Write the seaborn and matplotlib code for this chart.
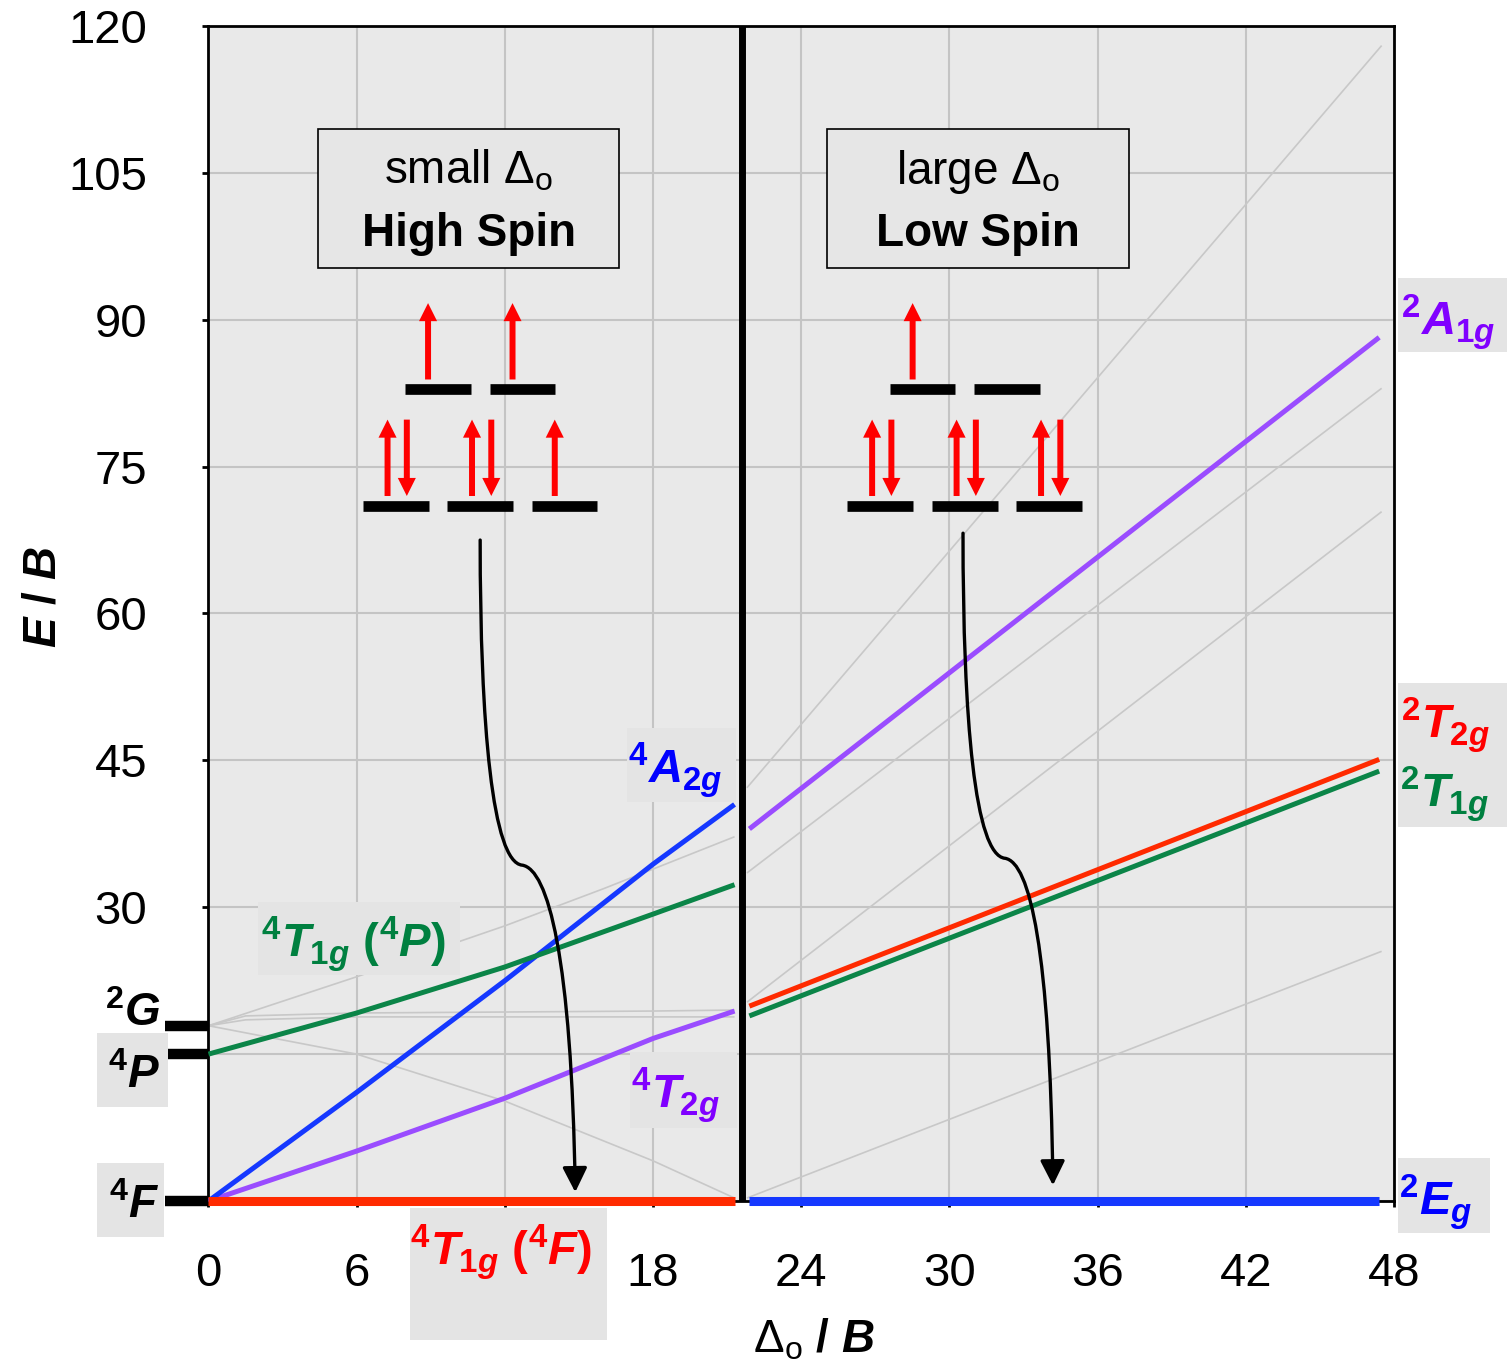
import matplotlib
matplotlib.use("Agg")
import matplotlib.pyplot as plt
import numpy as np
import seaborn as sns
from matplotlib.patches import Rectangle, FancyArrowPatch
from matplotlib.path import Path

# ---------------- Tanabe-Sugano data for a d7 ion (E/B against Δo/B) ----------------
crossover = 21.6

# high-spin side, energies measured from 4T1g(4F)
x_4T1gF = [0, 21.3]
y_4T1gF = [0, 0]
x_4T2g = [0, 6, 12, 18, 21.3]
y_4T2g = [0, 5.1, 10.5, 16.6, 19.4]
x_4A2g = [0, 6, 12, 18, 21.3]
y_4A2g = [0, 11.1, 22.5, 34.4, 40.5]
x_4T1gP = [0, 6, 12, 18, 21.3]
y_4T1gP = [15.0, 19.2, 23.9, 29.3, 32.3]

# remaining states on the high-spin side (drawn faint)
x_hs_a = [0, 6, 12, 16, 21.3]
y_hs_a = [17.9, 22.9, 28.1, 31.9, 37.2]
x_hs_b = [0, 1.5, 6, 12, 18, 21.3]
y_hs_b = [17.9, 18.9, 19.2, 19.3, 19.4, 19.5]
x_hs_c = [0, 1.5, 6, 12, 21.3]
y_hs_c = [17.9, 18.5, 18.8, 18.8, 18.8]
x_hs_d = [0, 6, 12, 18, 21.3]
y_hs_d = [17.9, 15.0, 10.2, 4.1, 0.3]

# low-spin side, energies measured from 2Eg
x_2Eg = [21.9, 47.4]
y_2Eg = [0, 0]
x_2T1g = [21.9, 47.4]
y_2T1g = [18.9, 43.9]
x_2T2g = [21.9, 47.4]
y_2T2g = [19.9, 45.1]
x_2A1g = [21.9, 47.4]
y_2A1g = [38.0, 88.2]

# remaining states on the low-spin side (drawn faint)
x_ls_a = [21.8, 47.5]
y_ls_a = [0.3, 25.5]
x_ls_b = [21.8, 47.5]
y_ls_b = [20.3, 70.4]
x_ls_c = [21.8, 47.5]
y_ls_c = [33.5, 83.0]
x_ls_d = [21.8, 47.5]
y_ls_d = [42.2, 118.0]

# free-ion terms
term_labels = ["$^{2}G$", "$^{4}P$", "$^{4}F$"]
term_energy = [17.9, 15.0, 0.0]

# d-orbital occupations (electrons per orbital)
hs_t2g = [2, 2, 1]
hs_eg = [1, 1]
ls_t2g = [2, 2, 2]
ls_eg = [1, 0]

xticks = [0, 6, 12, 18, 24, 30, 36, 42, 48]
xtick_labels = ["0", "6", "", "18", "24", "30", "36", "42", "48"]
yticks = [0, 15, 30, 45, 60, 75, 90, 105, 120]
ytick_labels = ["", "", "30", "45", "60", "75", "90", "105", "120"]

# ---------------- styling ----------------
sns.set_style("whitegrid", rc={
    "axes.facecolor": "#e9e9e9",
    "axes.edgecolor": "black",
    "grid.color": "#c4c4c4",
    "grid.linewidth": 1.5,
    "text.color": "black",
    "axes.labelcolor": "black",
    "xtick.color": "black",
    "ytick.color": "black",
})
plt.rcParams["font.family"] = ["Liberation Sans", "DejaVu Sans"]
plt.rcParams["mathtext.fontset"] = "custom"
plt.rcParams["mathtext.rm"] = "Liberation Sans:bold"
plt.rcParams["mathtext.bf"] = "Liberation Sans:bold"
plt.rcParams["mathtext.it"] = "Liberation Sans:italic:bold"
plt.rcParams["mathtext.sf"] = "Liberation Sans"

RED_L, RED_T = "#ff2a00", "#ff0000"
BLUE_L, BLUE_T = "#1538ff", "#0000ff"
PURP_L, PURP_T = "#9a4cff", "#8000ff"
GREEN_L, GREEN_T = "#0b8548", "#008040"
GREY_L = "#c8c8c8"
BOX = "#e4e4e4"

fig = plt.figure(figsize=(15.07, 13.63), dpi=100)
ax = fig.add_axes([0.13835, 0.11886, 0.78666, 0.86207])
ax.set_xlim(0, 48)
ax.set_ylim(0, 120)
ax.set_axisbelow(True)
ax.grid(True, color="#c4c4c4", lw=1.5)
for sp in ax.spines.values():
    sp.set_color("black")
    sp.set_linewidth(2)
    sp.set_visible(True)


def curve(x, y, color, lw, z=3):
    sns.lineplot(x=x, y=y, ax=ax, color=color, lw=lw, sort=False,
                 estimator=None, legend=False)
    ln = ax.lines[-1]
    ln.set_zorder(z)
    ln.set_clip_on(False)
    ln.set_solid_capstyle("butt")
    ln.set_solid_joinstyle("round")


# faint states
for xs, ys in [(x_hs_a, y_hs_a), (x_hs_b, y_hs_b), (x_hs_c, y_hs_c), (x_hs_d, y_hs_d),
               (x_ls_a, y_ls_a), (x_ls_b, y_ls_b), (x_ls_c, y_ls_c), (x_ls_d, y_ls_d)]:
    curve(xs, ys, GREY_L, 1.2, z=2)

# highlighted states
curve(x_4T2g, y_4T2g, PURP_L, 3.6)
curve(x_4A2g, y_4A2g, BLUE_L, 3.6)
curve(x_4T1gP, y_4T1gP, GREEN_L, 3.6)
curve(x_4T1gF, y_4T1gF, RED_L, 6.5, z=4)
curve(x_2A1g, y_2A1g, PURP_L, 3.6)
curve(x_2T2g, y_2T2g, RED_L, 3.6)
curve(x_2T1g, y_2T1g, GREEN_L, 3.6)
curve(x_2Eg, y_2Eg, BLUE_L, 6.5, z=4)

# spin crossover
ax.vlines(crossover, 0, 120, color="black", lw=5, zorder=5)

# ticks
ax.set_xticks(xticks)
ax.set_xticklabels(xtick_labels)
ax.set_yticks(yticks)
ax.set_yticklabels(ytick_labels)
ax.tick_params(axis="x", direction="out", length=4, width=2, color="black",
               labelcolor="black", labelsize=34, pad=33, bottom=True)
ax.tick_params(axis="y", direction="out", length=4, width=2, color="black",
               labelcolor="black", labelsize=34, pad=40, left=True)

ax.set_xlabel("Δ$_\\mathsf{o}$ $\\mathit{/}$ $B$", fontsize=33, color="black")
ax.set_ylabel("$E$ $\\mathit{/}$ $B$", fontsize=33, color="black")
ax.xaxis.set_label_coords(0.511, -0.0985)
ax.yaxis.set_label_coords(-0.121, 0.5145)


def label_box(x0, x1, y0, y1):
    ax.add_patch(Rectangle((x0, y0), x1 - x0, y1 - y0, facecolor=BOX,
                           edgecolor="none", clip_on=False, zorder=6))


def label(x, y, s, color, size=34):
    ax.text(x, y, s, color=color, fontsize=size, fontweight="bold",
            ha="center", va="baseline", zorder=7, clip_on=False)


# free-ion terms at Δo = 0
for e in term_energy:
    ax.plot([-1.76, 0], [e, e], color="black", lw=7.5, solid_capstyle="butt",
            clip_on=False, zorder=6)
label_box(-4.51, -1.64, 9.60, 17.16)
label_box(-4.51, -1.79, -3.68, 3.88)
label(-3.06, 17.9, term_labels[0], "black", 33)
label(-3.0, 11.5, term_labels[1], "black", 33)
label(-3.0, -1.7, term_labels[2], "black", 33)

# state labels
label_box(2.00, 10.18, 23.08, 30.54)
label(5.87, 24.95, "$^{4}T_{1g}$ ($^{4}P$)", GREEN_T)
label_box(16.94, 21.36, 40.76, 48.31)
label(18.89, 42.7, "$^{4}A_{2g}$", BLUE_T)
label_box(17.06, 21.40, 7.46, 15.22)
label(18.9, 9.5, "$^{4}T_{2g}$", PURP_T)
label_box(8.16, 16.13, -14.2, -0.72)
label(11.84, -6.5, "$^{4}T_{1g}$ ($^{4}F$)", RED_T)
label_box(48.16, 52.57, 86.72, 94.28)
label(50.2, 88.5, "$^{2}A_{1g}$", PURP_T)
label_box(48.16, 52.57, 38.2, 52.91)
label(50.1, 47.3, "$^{2}T_{2g}$", RED_T)
label(50.05, 40.25, "$^{2}T_{1g}$", GREEN_T)
label_box(48.16, 51.88, -3.27, 4.39)
label(49.7, -1.43, "$^{2}E_{g}$", BLUE_T)

# regime boxes
for x0, x1, line1, line2 in [(4.45, 16.63, "small Δ$_\\mathsf{o}$", "High Spin"),
                             (25.04, 37.27, "large Δ$_\\mathsf{o}$", "Low Spin")]:
    ax.add_patch(Rectangle((x0, 95.3), x1 - x0, 14.2, facecolor="#e6e6e6",
                           edgecolor="black", lw=1.2, zorder=6))
    xc = (x0 + x1) / 2
    ax.text(xc, 103.9, line1, fontsize=33, ha="center", va="baseline",
            color="black", zorder=7)
    ax.text(xc, 97.5, line2, fontsize=33, fontweight="bold", ha="center",
            va="baseline", color="black", zorder=7)


# orbital splitting diagrams
def spin_arrow(x, y0, y1):
    ax.add_patch(FancyArrowPatch((x, y0), (x, y1),
                                 arrowstyle="simple,head_length=13,head_width=13,tail_width=4.3",
                                 mutation_scale=1, color="#ff0000", lw=0,
                                 shrinkA=0, shrinkB=0, zorder=6))


def orbital_diagram(cx, t2g, eg):
    spacing, half = 3.42, 1.33
    for level_y, occ in ((71.0, t2g), (82.9, eg)):
        n = len(occ)
        offsets = (np.arange(n) - (n - 1) / 2) * spacing
        for dx, k in zip(offsets, occ):
            bx = cx + dx
            ax.plot([bx - half, bx + half], [level_y, level_y], color="black",
                    lw=7.7, solid_capstyle="butt", zorder=6)
            lo, hi = level_y + 1.0, level_y + 8.8
            if k == 1:
                spin_arrow(bx - 0.4, lo, hi)
            elif k == 2:
                spin_arrow(bx - 0.33, lo, hi)
                spin_arrow(bx + 0.45, hi, lo)


orbital_diagram(11.0, hs_t2g, hs_eg)
orbital_diagram(30.62, ls_t2g, ls_eg)

# curved arrows from each configuration down to its ground state
codes = [Path.MOVETO] + [Path.CURVE4] * 6
for verts in ([(11.0, 67.5), (11.0, 48.4), (11.5, 34.6), (12.7, 34.3),
               (13.75, 33.9), (14.7, 24.9), (14.85, 0.9)],
              [(30.55, 68.2), (30.55, 49.1), (31.03, 35.3), (32.25, 35.0),
               (33.26, 34.6), (34.07, 25.6), (34.19, 1.6)]):
    ax.add_patch(FancyArrowPatch(path=Path(verts, codes), transform=ax.transData,
                                 arrowstyle="-|>,head_length=15,head_width=7.5",
                                 mutation_scale=1, color="black", lw=2.4,
                                 zorder=6))

fig.savefig("out.png", dpi=100, facecolor="white")
